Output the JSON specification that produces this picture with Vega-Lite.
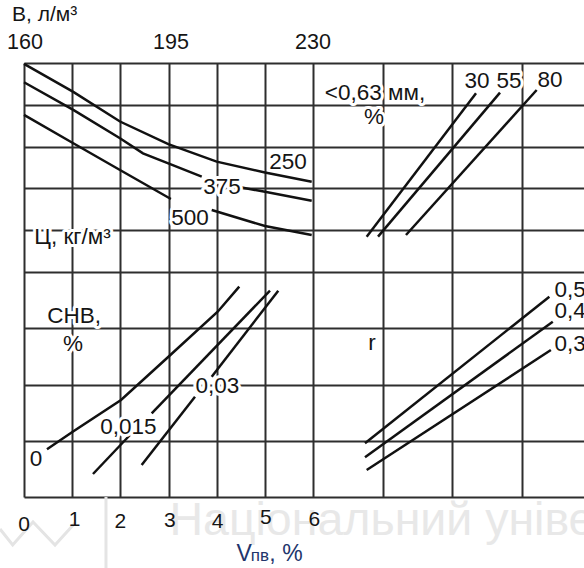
{
  "$schema": "https://vega.github.io/schema/vega-lite/v6.json",
  "width": 560,
  "height": 434,
  "autosize": {"type": "none"},
  "padding": {"left": 24, "top": 63, "right": 0, "bottom": 71},
  "background": "white",
  "config": {"view": {"stroke": null}, "text": {"font": "Liberation Sans"}},
  "datasets": {
    "curves": [
      {"s": "250", "x": 0, "y": 8.98}, {"s": "250", "x": 1.023, "y": 8.31}, {"s": "250", "x": 1.993, "y": 7.6}, {"s": "250", "x": 2.996, "y": 7.06}, {"s": "250", "x": 4.0, "y": 6.64}, {"s": "250", "x": 5.003, "y": 6.38}, {"s": "250", "x": 5.973, "y": 6.16},
      {"s": "375a", "x": 0, "y": 8.54}, {"s": "375a", "x": 1.023, "y": 7.88}, {"s": "375a", "x": 1.993, "y": 7.2}, {"s": "375a", "x": 2.47, "y": 6.84}, {"s": "375a", "x": 2.996, "y": 6.6}, {"s": "375a", "x": 3.69, "y": 6.28},
      {"s": "375b", "x": 4.52, "y": 6.02}, {"s": "375b", "x": 5.003, "y": 5.919}, {"s": "375b", "x": 5.973, "y": 5.706},
      {"s": "500a", "x": 0, "y": 7.76}, {"s": "500a", "x": 1.023, "y": 7.08}, {"s": "500a", "x": 1.993, "y": 6.44}, {"s": "500a", "x": 3.05, "y": 5.746},
      {"s": "500b", "x": 3.897, "y": 5.483}, {"s": "500b", "x": 5.003, "y": 5.1}, {"s": "500b", "x": 5.973, "y": 4.885},
      {"s": "30", "x": 6.77, "y": 4.845}, {"s": "30", "x": 8.339, "y": 8.275},
      {"s": "55", "x": 6.933, "y": 4.845}, {"s": "55", "x": 8.683, "y": 8.29},
      {"s": "80", "x": 7.334, "y": 4.885}, {"s": "80", "x": 9.209, "y": 8.354},
      {"s": "c0", "x": 0.477, "y": 0.848}, {"s": "c0", "x": 1.011, "y": 1.161}, {"s": "c0", "x": 2.014, "y": 1.724}, {"s": "c0", "x": 3.016, "y": 2.507}, {"s": "c0", "x": 4.021, "y": 3.294}, {"s": "c0", "x": 4.469, "y": 3.739},
      {"s": "c015a", "x": 1.432, "y": 0.409}, {"s": "c015a", "x": 2.2, "y": 1.102},
      {"s": "c015b", "x": 2.651, "y": 1.488}, {"s": "c015b", "x": 5.107, "y": 3.668},
      {"s": "c03a", "x": 2.443, "y": 0.569}, {"s": "c03a", "x": 3.55, "y": 1.783},
      {"s": "c03b", "x": 3.897, "y": 2.139}, {"s": "c03b", "x": 5.279, "y": 3.668},
      {"s": "r05", "x": 6.746, "y": 0.955}, {"s": "r05", "x": 9.391, "y": 3.561},
      {"s": "r04", "x": 6.746, "y": 0.706}, {"s": "r04", "x": 9.44, "y": 3.116},
      {"s": "r03", "x": 6.77, "y": 0.48}, {"s": "r03", "x": 9.413, "y": 2.613}
    ],
    "labels": [
      {"t": "250", "x": 5.48, "y": 6.62},
      {"t": "375", "x": 4.11, "y": 6.03},
      {"t": "500", "x": 3.446, "y": 5.28},
      {"t": "Ц, кг/м³", "x": 1.007, "y": 4.84},
      {"t": "<0,63 мм,", "x": 6.89, "y": 8.28},
      {"t": "%", "x": 6.875, "y": 7.71},
      {"t": "30", "x": 8.353, "y": 8.57},
      {"t": "55", "x": 8.812, "y": 8.57},
      {"t": "80", "x": 9.4, "y": 8.59},
      {"t": "СНВ,", "x": 1.042, "y": 3.209},
      {"t": "%", "x": 1.017, "y": 2.72},
      {"t": "0", "x": 0.25, "y": 0.684},
      {"t": "0,015", "x": 2.166, "y": 1.236},
      {"t": "0,03", "x": 4.017, "y": 1.973},
      {"t": "r", "x": 6.846, "y": 2.729},
      {"t": "0,5", "x": 9.69, "y": 3.68},
      {"t": "0,4", "x": 9.69, "y": 3.307},
      {"t": "0,3", "x": 9.69, "y": 2.72}
    ],
    "bottomnums": [
      {"t": "0", "x": 0, "y": -0.498},
      {"t": "1", "x": 1.05, "y": -0.409},
      {"t": "2", "x": 2, "y": -0.444},
      {"t": "3", "x": 3.03, "y": -0.427},
      {"t": "4", "x": 4.02, "y": -0.444},
      {"t": "5", "x": 5.02, "y": -0.373},
      {"t": "6", "x": 6.02, "y": -0.409}
    ],
    "topnums": [
      {"t": "160", "x": 0.02, "y": 9.49},
      {"t": "195", "x": 3.05, "y": 9.49},
      {"t": "230", "x": 6.0, "y": 9.49}
    ],
    "logo": [
      {"s": "z", "x": -0.498, "y": -0.569}, {"s": "z", "x": -0.235, "y": -0.853}, {"s": "z", "x": 0.187, "y": -0.444}, {"s": "z", "x": 0.644, "y": -0.853}, {"s": "z", "x": 1.059, "y": -0.462},
      {"s": "v", "x": 1.702, "y": 0}, {"s": "v", "x": 1.702, "y": -1.262}
    ]
  },
  "layer": [
    {
      "data": {"values": [{"t": "Національний університет", "x": 3.02, "y": -0.667}]},
      "mark": {"type": "text", "align": "left", "baseline": "alphabetic", "fontSize": 46.5, "color": "#e8e8e8"},
      "encoding": {
        "x": {"field": "x", "type": "quantitative", "scale": {"domain": [0, 6, 9.888], "range": [0, 289, 560], "nice": false, "zero": false}, "axis": {"grid": true, "values": [0, 1, 2, 3, 4, 5, 6, 7, 8, 9], "labels": false, "ticks": false, "domain": false, "title": null, "gridColor": "#2e2e2e", "gridWidth": 2, "gridOpacity": 1}},
        "y": {"field": "y", "type": "quantitative", "scale": {"domain": [0, 4, 9], "range": [434, 209, 0], "nice": false, "zero": false}, "axis": {"grid": true, "values": [0, 1, 2, 3, 4, 5, 6, 7, 8, 9], "labels": false, "ticks": false, "domain": false, "title": null, "gridColor": "#2e2e2e", "gridWidth": 2, "gridOpacity": 1}},
        "text": {"field": "t"}
      }
    },
    {
      "data": {"name": "logo"},
      "mark": {"type": "line", "color": "#e4e4e4", "strokeWidth": 3},
      "encoding": {
        "x": {"field": "x", "type": "quantitative"},
        "y": {"field": "y", "type": "quantitative"},
        "detail": {"field": "s"}
      }
    },
    {
      "data": {"name": "curves"},
      "mark": {"type": "line", "color": "#111111", "strokeWidth": 2.5},
      "encoding": {
        "x": {"field": "x", "type": "quantitative"},
        "y": {"field": "y", "type": "quantitative"},
        "detail": {"field": "s"}
      }
    },
    {
      "data": {"name": "labels"},
      "mark": {"type": "text", "align": "center", "baseline": "middle", "fontSize": 22.5, "color": "white", "stroke": "white", "strokeWidth": 6, "strokeJoin": "round"},
      "encoding": {
        "x": {"field": "x", "type": "quantitative"},
        "y": {"field": "y", "type": "quantitative"},
        "text": {"field": "t"}
      }
    },
    {
      "data": {"name": "labels"},
      "mark": {"type": "text", "align": "center", "baseline": "middle", "fontSize": 22.5, "color": "#151515"},
      "encoding": {
        "x": {"field": "x", "type": "quantitative"},
        "y": {"field": "y", "type": "quantitative"},
        "text": {"field": "t"}
      }
    },
    {
      "data": {"name": "bottomnums"},
      "mark": {"type": "text", "align": "center", "baseline": "middle", "fontSize": 21, "color": "#151515"},
      "encoding": {
        "x": {"field": "x", "type": "quantitative"},
        "y": {"field": "y", "type": "quantitative"},
        "text": {"field": "t"}
      }
    },
    {
      "data": {"name": "topnums"},
      "mark": {"type": "text", "align": "center", "baseline": "middle", "fontSize": 21.5, "color": "#151515"},
      "encoding": {
        "x": {"field": "x", "type": "quantitative"},
        "y": {"field": "y", "type": "quantitative"},
        "text": {"field": "t"}
      }
    },
    {
      "data": {"values": [{"t": "В, л/м³", "x": -0.249, "y": 10.16}]},
      "mark": {"type": "text", "align": "left", "baseline": "middle", "fontSize": 21, "color": "#151515"},
      "encoding": {
        "x": {"field": "x", "type": "quantitative"},
        "y": {"field": "y", "type": "quantitative"},
        "text": {"field": "t"}
      }
    },
    {
      "data": {"values": [{"t": "V", "x": 4.571, "y": -1.138}, {"t": ", %", "x": 5.439, "y": -1.138}]},
      "mark": {"type": "text", "align": "center", "baseline": "alphabetic", "fontSize": 23, "color": "#22356b"},
      "encoding": {
        "x": {"field": "x", "type": "quantitative"},
        "y": {"field": "y", "type": "quantitative"},
        "text": {"field": "t"}
      }
    },
    {
      "data": {"values": [{"t": "пв", "x": 4.899, "y": -1.138}]},
      "mark": {"type": "text", "align": "center", "baseline": "alphabetic", "fontSize": 17, "color": "#22356b"},
      "encoding": {
        "x": {"field": "x", "type": "quantitative"},
        "y": {"field": "y", "type": "quantitative"},
        "text": {"field": "t"}
      }
    }
  ]
}
